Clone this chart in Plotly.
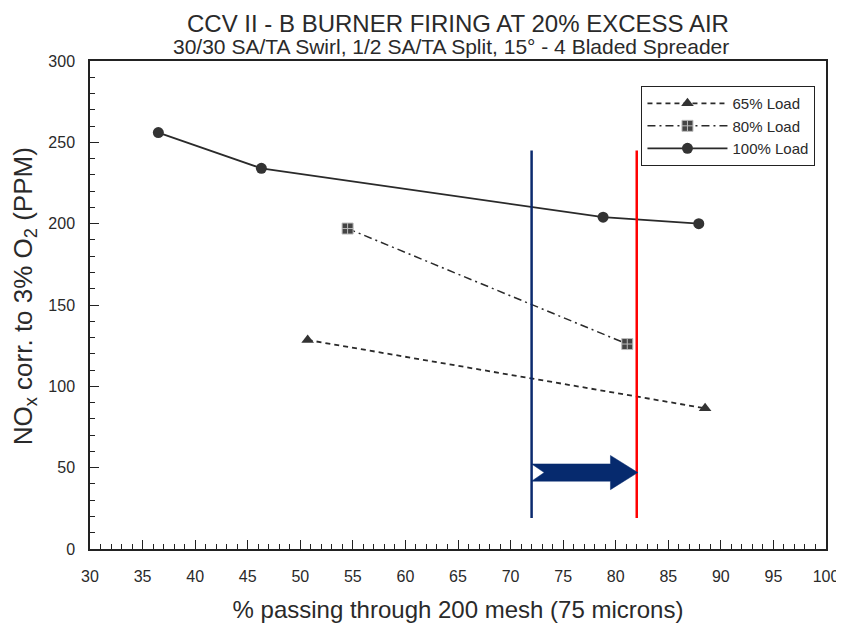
import plotly.graph_objects as go

# ---- data ----
x_65 = [50.7, 88.5]
y_65 = [128.5, 86.5]
x_80 = [54.5, 81.1]
y_80 = [197.0, 126.0]
x_100 = [36.5, 46.3, 78.8, 87.9]
y_100 = [256.0, 234.0, 204.0, 200.0]

series_names = ["65% Load", "80% Load", "100% Load"]

blue_line_x = 72.0
red_line_x = 82.0
marker_line_y = [19.0, 245.0]
arrow_x = [72.0, 82.1]
arrow_y = 47.0

x_ticks = list(range(30, 101, 5))
y_ticks = list(range(0, 301, 50))

FONT = "Liberation Sans, Arial, sans-serif"
INK = "#2a2a2a"

fig = go.Figure()
fig.add_trace(go.Scatter(
    x=x_65, y=y_65, name=series_names[0], mode="lines+markers",
    line=dict(color=INK, width=1.8, dash="5px,4px"),
    marker=dict(symbol="triangle-up", size=11, color="#333"),
))
fig.add_trace(go.Scatter(
    x=x_80, y=y_80, name=series_names[1], mode="lines+markers",
    line=dict(color=INK, width=1.5, dash="8px,4px,2px,4px"),
    marker=dict(symbol="square-cross", size=11, color="#444",
                line=dict(color="#bbb", width=1)),
))
fig.add_trace(go.Scatter(
    x=x_100, y=y_100, name=series_names[2], mode="lines+markers",
    line=dict(color=INK, width=1.8),
    marker=dict(symbol="circle", size=11, color="#333"),
))

# vertical guide lines
fig.add_shape(type="line", xref="x", yref="y", x0=blue_line_x, x1=blue_line_x,
              y0=marker_line_y[0], y1=marker_line_y[1],
              line=dict(color="#0b2a6e", width=2.5))
fig.add_shape(type="line", xref="x", yref="y", x0=red_line_x, x1=red_line_x,
              y0=marker_line_y[0], y1=marker_line_y[1],
              line=dict(color="#ff0000", width=2.5))

# block arrow
ax0, ax1 = arrow_x
head_len = 2.6
body_h = 5.3
head_h = 10.5
notch = 1.2
xb = ax1 - head_len
path = (f"M {ax0},{arrow_y + body_h} L {xb},{arrow_y + body_h} L {xb},{arrow_y + head_h} "
        f"L {ax1},{arrow_y} L {xb},{arrow_y - head_h} L {xb},{arrow_y - body_h} "
        f"L {ax0},{arrow_y - body_h} L {ax0 + notch},{arrow_y} Z")
fig.add_shape(type="path", xref="x", yref="y", path=path,
              fillcolor="#062a6e", line=dict(color="#062a6e", width=0.5))

# titles
fig.add_annotation(text="CCV II - B BURNER FIRING AT 20% EXCESS AIR",
                   xref="paper", yref="paper", x=0.5, y=1.0, yshift=38,
                   showarrow=False, font=dict(family=FONT, size=24, color=INK),
                   xanchor="center", yanchor="middle")
fig.add_annotation(text="30/30 SA/TA Swirl, 1/2 SA/TA Split, 15° - 4 Bladed Spreader",
                   xref="paper", yref="paper", x=0.49, y=1.0, yshift=15,
                   showarrow=False, font=dict(family=FONT, size=21, color=INK),
                   xanchor="center", yanchor="middle")
# y-axis title
fig.add_annotation(text="NO<sub>x</sub> corr. to 3% O<sub>2</sub> (PPM)",
                   xref="paper", yref="paper", x=0.0, y=0.518, xshift=-66,
                   textangle=-90, showarrow=False,
                   font=dict(family=FONT, size=26, color=INK),
                   xanchor="center", yanchor="middle")

# page body has an 8px margin: figure sized/offset so the plot frame lands at
# left 90, top 61, right 826, bottom 549 of the 844x623 window
fig.update_layout(
    width=836, height=615,
    margin=dict(l=82, r=18, t=53, b=74),
    paper_bgcolor="white", plot_bgcolor="white",
    font=dict(family=FONT, color=INK),
    showlegend=True,
    legend=dict(x=0.749, y=0.949, xanchor="left", yanchor="top",
                bordercolor="#222", borderwidth=1.2, bgcolor="white",
                font=dict(family=FONT, size=15, color=INK),
                itemwidth=80, tracegroupgap=0),
    xaxis=dict(range=[30, 100], tickvals=x_ticks, ticktext=[str(v) for v in x_ticks],
               automargin=False,
               showgrid=False, zeroline=False, showline=True, linecolor="#222",
               linewidth=1.5, mirror=True, ticks="inside", ticklen=9, tickwidth=1,
               tickcolor="#222", ticklabelstandoff=12,
               minor=dict(dtick=1, ticks="inside", ticklen=5, tickcolor="#222", showgrid=False),
               tickfont=dict(family=FONT, size=16, color=INK),
               title=dict(text="% passing through 200 mesh (75 microns)",
                          font=dict(family=FONT, size=24, color=INK), standoff=20)),
    yaxis=dict(range=[0, 300], tickvals=y_ticks, ticktext=[str(v) for v in y_ticks],
               automargin=False,
               showgrid=False, zeroline=False, showline=True, linecolor="#222",
               linewidth=1.5, mirror=True, ticks="inside", ticklen=9, tickwidth=1,
               tickcolor="#222", ticklabelstandoff=10,
               minor=dict(dtick=10, ticks="inside", ticklen=5, tickcolor="#222", showgrid=False),
               tickfont=dict(family=FONT, size=16, color=INK)),
)

fig.write_html("out.html")
